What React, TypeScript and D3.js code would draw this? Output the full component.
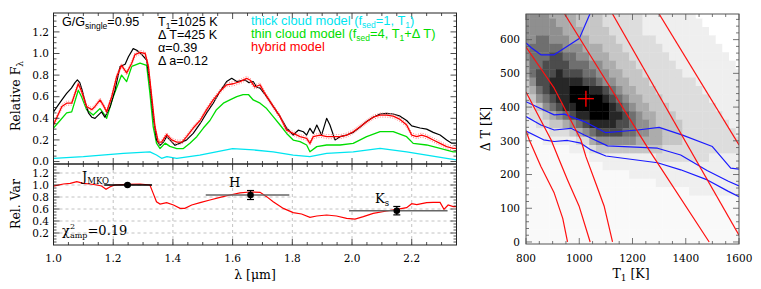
import React from 'react';
import * as d3 from 'd3';

type P = [number, number];

// ---------- Left: spectra (lambda [um], relative flux) ----------
const observed: P[] = [
  [1.0, 0.46], [1.015, 0.52], [1.028, 0.57], [1.044, 0.63], [1.06, 0.68], [1.072, 0.73], [1.08, 0.755], [1.088, 0.73],
  [1.096, 0.66], [1.106, 0.55], [1.117, 0.45], [1.128, 0.41], [1.139, 0.4], [1.15, 0.43], [1.161, 0.46], [1.172, 0.41],
  [1.19, 0.51], [1.206, 0.66], [1.223, 0.88], [1.24, 0.9], [1.251, 0.97], [1.267, 1.045], [1.279, 1.03], [1.296, 0.99],
  [1.312, 0.94], [1.323, 0.72], [1.334, 0.42], [1.345, 0.2], [1.357, 0.15], [1.368, 0.18], [1.379, 0.23], [1.39, 0.2],
  [1.407, 0.15], [1.424, 0.17], [1.446, 0.2], [1.468, 0.26], [1.491, 0.35], [1.513, 0.45], [1.535, 0.54], [1.558, 0.65],
  [1.58, 0.74], [1.597, 0.77], [1.614, 0.74], [1.63, 0.75], [1.642, 0.755], [1.655, 0.73], [1.669, 0.74], [1.68, 0.69],
  [1.692, 0.68], [1.714, 0.6], [1.736, 0.51], [1.759, 0.415], [1.781, 0.31], [1.803, 0.245], [1.82, 0.29], [1.837, 0.276],
  [1.848, 0.245], [1.859, 0.307], [1.87, 0.26], [1.882, 0.338], [1.898, 0.245], [1.915, 0.4], [1.926, 0.338], [1.943, 0.2],
  [1.96, 0.23], [1.982, 0.245], [2.004, 0.27], [2.027, 0.32], [2.049, 0.37], [2.071, 0.41], [2.094, 0.44], [2.116, 0.445],
  [2.138, 0.44], [2.161, 0.42], [2.183, 0.38], [2.2, 0.33], [2.228, 0.31], [2.25, 0.3], [2.272, 0.27], [2.295, 0.245],
  [2.317, 0.2], [2.334, 0.17], [2.35, 0.17],
];

const hybridModel: P[] = [
  [1.0, 0.34], [1.028, 0.51], [1.044, 0.54], [1.061, 0.54], [1.083, 0.72], [1.094, 0.65], [1.111, 0.51], [1.128, 0.48],
  [1.139, 0.51], [1.156, 0.57], [1.167, 0.52], [1.178, 0.46], [1.195, 0.6], [1.212, 0.79], [1.228, 0.89], [1.245, 0.82],
  [1.262, 0.91], [1.273, 0.99], [1.29, 1.01], [1.307, 1.0], [1.318, 0.88], [1.329, 0.6], [1.34, 0.32], [1.351, 0.18],
  [1.362, 0.18], [1.379, 0.25], [1.396, 0.2], [1.413, 0.18], [1.43, 0.18], [1.446, 0.23], [1.468, 0.31], [1.491, 0.38],
  [1.513, 0.48], [1.535, 0.57], [1.558, 0.65], [1.58, 0.71], [1.602, 0.72], [1.625, 0.74], [1.647, 0.77], [1.658, 0.755],
  [1.674, 0.69], [1.692, 0.71], [1.708, 0.63], [1.736, 0.51], [1.759, 0.415], [1.781, 0.29], [1.803, 0.26], [1.826, 0.23],
  [1.848, 0.214], [1.859, 0.168], [1.87, 0.23], [1.893, 0.245], [1.915, 0.23], [1.937, 0.23], [1.96, 0.23], [1.982, 0.245],
  [2.004, 0.276], [2.027, 0.322], [2.049, 0.368], [2.071, 0.41], [2.094, 0.43], [2.116, 0.43], [2.138, 0.42], [2.161, 0.39],
  [2.183, 0.338], [2.2, 0.245], [2.217, 0.23], [2.233, 0.245], [2.25, 0.23], [2.272, 0.199], [2.295, 0.168], [2.317, 0.138],
  [2.339, 0.122], [2.35, 0.122],
];

const thinCloud: P[] = [
  [1.0, 0.31], [1.022, 0.38], [1.044, 0.45], [1.061, 0.46], [1.083, 0.66], [1.094, 0.6], [1.111, 0.48], [1.133, 0.43],
  [1.156, 0.49], [1.172, 0.43], [1.178, 0.4], [1.2, 0.6], [1.228, 0.8], [1.245, 0.74], [1.262, 0.88], [1.29, 0.91],
  [1.312, 0.89], [1.323, 0.63], [1.334, 0.32], [1.345, 0.17], [1.357, 0.12], [1.374, 0.17], [1.39, 0.14], [1.413, 0.12],
  [1.435, 0.12], [1.457, 0.17], [1.48, 0.23], [1.502, 0.31], [1.524, 0.38], [1.546, 0.48], [1.569, 0.54], [1.591, 0.57],
  [1.614, 0.6], [1.635, 0.62], [1.653, 0.62], [1.669, 0.57], [1.692, 0.54], [1.714, 0.49], [1.736, 0.415], [1.759, 0.338],
  [1.781, 0.26], [1.803, 0.199], [1.826, 0.184], [1.848, 0.153], [1.859, 0.09], [1.882, 0.138], [1.915, 0.153], [1.96, 0.153],
  [2.004, 0.168], [2.049, 0.23], [2.094, 0.276], [2.138, 0.276], [2.183, 0.23], [2.205, 0.168], [2.25, 0.153], [2.295, 0.122],
  [2.339, 0.09], [2.35, 0.09],
];

const thickCloud: P[] = [
  [1.0, 0.03], [1.1, 0.045], [1.234, 0.076], [1.323, 0.09], [1.345, 0.06], [1.362, 0.03], [1.38, 0.045], [1.413, 0.03],
  [1.49, 0.06], [1.6, 0.12], [1.67, 0.107], [1.736, 0.09], [1.803, 0.06], [1.859, 0.045], [1.915, 0.076], [2.004, 0.09],
  [2.094, 0.122], [2.183, 0.09], [2.25, 0.06], [2.317, 0.03], [2.35, 0.015],
];

const relVariability: P[] = [
  [1.0, 0.98], [1.033, 1.017], [1.056, 1.028], [1.078, 1.056], [1.1, 1.028], [1.122, 1.017], [1.145, 1.0], [1.161, 0.983],
  [1.176, 0.928], [1.19, 0.972], [1.206, 1.0], [1.245, 1.011], [1.29, 1.017], [1.323, 1.0], [1.334, 0.86], [1.345, 0.72],
  [1.357, 0.683], [1.379, 0.706], [1.402, 0.667], [1.424, 0.61], [1.44, 0.61], [1.463, 0.667], [1.491, 0.706], [1.524, 0.75],
  [1.558, 0.794], [1.591, 0.833], [1.625, 0.87], [1.658, 0.883], [1.692, 0.878], [1.714, 0.806], [1.736, 0.72], [1.77, 0.61],
  [1.803, 0.539], [1.831, 0.517], [1.859, 0.461], [1.882, 0.483], [1.915, 0.5], [1.948, 0.483], [1.982, 0.444], [2.01, 0.433],
  [2.038, 0.472], [2.071, 0.528], [2.116, 0.567], [2.15, 0.594], [2.183, 0.622], [2.2, 0.689], [2.217, 0.672], [2.25, 0.706],
  [2.272, 0.711], [2.295, 0.711], [2.308, 0.594], [2.322, 0.667], [2.339, 0.639], [2.35, 0.639],
];

const bandCenter = [1.248, 1.66, 2.15];
const bandAmp = [1.0, 0.833, 0.572];
const bandErr = [0.012, 0.075, 0.07];
const bandFrom = [1.17, 1.51, 1.99];
const bandTo = [1.33, 1.79, 2.32];
const bandColor = ['#000000', '#666666', '#666666'];

const topTicks = [0, 0.2, 0.4, 0.6, 0.8, 1.0, 1.2];
const botTicks = [0.2, 0.4, 0.6, 0.8, 1.0, 1.2];
const lamTicks = [1.0, 1.2, 1.4, 1.6, 1.8, 2.0, 2.2];

// ---------- Right: chi^2 map ----------
const heatT1Start = 800;
const heatStep = 25;
const heatDTTop = 675;
// rows from dT=675 down to 0; columns T1=800..1600 (darkness 0..9, '-' = white)
const heatRows = [
  '55554444333322222211111111-------',
  '555554443333222222111111111------',
  '5555554443333222221111111111-----',
  '55665554443333222222111111111----',
  '566666555444333222222111111111---',
  '5666776655444333222222111111111--',
  '46677776665544333222222111111111-',
  '467778777665544333222222111111111',
  '357788888776554433322222221111111',
  '346788899988765443332222222111111',
  '235678899999876544333222222211111',
  '223567889999987654433322222221111',
  '122345678899988765443332222222111',
  '112233456788887765543333222222211',
  '011122234567777665544333222222221',
  '000111112245555554444333222222222',
  '000000011123333333333222222222222',
  '000000000011111111112222222211111',
  '000000000000111111111111111111111',
  '000000000000000011111111111111111',
  '000000000000000000001111111111111',
  '000000000000000000000000011111111',
  '000000000000000000000000000000000',
  '000000000000000000000000000000000',
  '000000000000000000000000000000000',
  '000000000000000000000000000000000',
  '000000000000000000000000000000000',
  '000000000000000000000000000000000',
];

const redContours: P[][] = [
  [[800, 330], [812, 303], [856, 224], [906, 145], [938, 70], [956, 0]],
  [[800, 445], [894, 303], [925, 243], [956, 184], [1000, 105], [1041, 0]],
  [[800, 578], [906, 456], [1006, 303], [1025, 253], [1062, 174], [1094, 105], [1125, 0]],
  [[945, 676], [1040, 555], [1262, 273], [1488, 0]],
  [[1125, 676], [1600, 20]],
  [[1300, 676], [1600, 288]],
];

const blueContours: P[][] = [
  [[800, 590], [820, 576], [856, 555], [906, 555], [1000, 603], [1040, 676]],
  [[800, 416], [906, 377], [944, 379], [1019, 357], [1100, 324], [1219, 332], [1300, 340], [1388, 317], [1500, 283], [1569, 219], [1600, 216]],
  [[800, 372], [856, 347], [906, 332], [969, 337], [1019, 317], [1106, 285], [1294, 278], [1381, 258], [1480, 212], [1560, 180], [1600, 166]],
  [[800, 329], [866, 303], [906, 298], [956, 301], [1006, 293], [1044, 273], [1100, 255], [1294, 235], [1381, 214], [1481, 184], [1560, 150], [1600, 134]],
];

const bestFit: P = [1025, 425];
const t1Ticks = [800, 1000, 1200, 1400, 1600];
const dtTicks = [0, 100, 200, 300, 400, 500, 600];

const serif = "'DejaVu Serif', serif";
const sans = "'Liberation Sans', Arial, sans-serif";

function near(v: number, step: number) {
  return Math.abs(v / step - Math.round(v / step)) < 1e-6;
}

function grayOf(ch: string) {
  if (ch === '-') return '#ffffff';
  const d = +ch;
  const g = Math.round(249 * (1 - Math.pow(d / 9, 1.45)));
  return `rgb(${g},${g},${g})`;
}

export default function App() {
  const xL = d3.scaleLinear().domain([1.0, 2.35]).range([53.5, 456.5]);
  const yT = d3.scaleLinear().domain([-0.023, 1.375]).range([164, 13]);
  const yB = d3.scaleLinear().domain([0, 1.35]).range([245, 164]);
  const xR = d3.scaleLinear().domain([800, 1600]).range([526, 739]);
  const yR = d3.scaleLinear().domain([-6, 676]).range([244, 14]);

  const lineT = d3.line<P>().x(d => xL(d[0])).y(d => yT(d[1]));
  const lineB = d3.line<P>().x(d => xL(d[0])).y(d => yB(d[1]));
  const lineR = d3.line<P>().x(d => xR(d[0])).y(d => yR(d[1]));

  const lamMinor = d3.range(1.0, 2.3501, 0.05);
  const topMinor = d3.range(0, 1.3501, 0.05);
  const botMinor = d3.range(0.05, 1.3001, 0.05);
  const t1Minor = d3.range(800, 1600.1, 50);
  const dtMinor = d3.range(0, 676, 20);

  const [lx0, lx1] = xL.range();
  const tTop = 13, tBot = 164, bBot = 245;
  const [rx0, rx1] = xR.range();
  const ry0 = 14, ry1 = 244;

  const cells: JSX.Element[] = [];
  heatRows.forEach((row, i) => {
    const dt = heatDTTop - i * heatStep;
    for (let j = 0; j < row.length; j++) {
      const t1 = heatT1Start + j * heatStep;
      const x0 = xR(t1 - heatStep / 2), x1 = xR(t1 + heatStep / 2);
      const y0 = yR(dt + heatStep / 2), y1 = yR(dt - heatStep / 2);
      cells.push(
        <rect key={`c${i}-${j}`} x={x0} y={y0} width={x1 - x0 + 0.4} height={y1 - y0 + 0.4} fill={grayOf(row[j])} />
      );
    }
  });

  const ax = '#222';
  const tickMajor = 6, tickMinor = 3;

  return (
    <svg width={761} height={289} style={{ display: 'block', position: 'absolute', left: 0, top: 0 }}>
      <rect x={0} y={0} width={761} height={289} fill="#fff" />
      <defs>
        <clipPath id="lclip"><rect x={lx0} y={tTop} width={lx1 - lx0} height={bBot - tTop} /></clipPath>
        <clipPath id="rclip"><rect x={rx0} y={ry0} width={rx1 - rx0} height={ry1 - ry0} /></clipPath>
      </defs>

      {/* lower panel grid */}
      {lamTicks.filter(v => v > 1.0).map(v => (
        <line key={`gx${v}`} x1={xL(v)} x2={xL(v)} y1={tBot} y2={bBot} stroke="#bbb" strokeDasharray="3,3" strokeWidth={0.9} />
      ))}
      {botTicks.map(v => (
        <line key={`gy${v}`} x1={lx0} x2={lx1} y1={yB(v)} y2={yB(v)} stroke="#bbb" strokeDasharray="3,3" strokeWidth={0.9} />
      ))}

      {/* top panel spectra */}
      <g clipPath="url(#lclip)" fill="none" strokeLinejoin="round">
        <path d={lineT(thickCloud) || ''} stroke="#00e5f0" strokeWidth={1.3} />
        <path d={lineT(thinCloud) || ''} stroke="#00dd00" strokeWidth={1.3} />
        <path d={lineT(observed) || ''} stroke="#000" strokeWidth={1.2} />
        <path d={lineT(hybridModel) || ''} stroke="#ff8080" strokeWidth={1} strokeDasharray="1,1.5" transform="translate(0,-2)" />
        <path d={lineT(hybridModel) || ''} stroke="#ff8080" strokeWidth={1} strokeDasharray="1,1.5" transform="translate(0,2)" />
        <path d={lineT(hybridModel) || ''} stroke="#ff0000" strokeWidth={1.3} />
      </g>

      {/* lower panel */}
      <g clipPath="url(#lclip)" fill="none">
        <path d={lineB(relVariability) || ''} stroke="#ff0000" strokeWidth={1.2} />
      </g>
      {bandCenter.map((c, i) => (
        <g key={`b${i}`}>
          <line x1={xL(bandFrom[i])} x2={xL(bandTo[i])} y1={yB(bandAmp[i])} y2={yB(bandAmp[i])} stroke={bandColor[i]} strokeWidth={1.6} />
          <line x1={xL(c)} x2={xL(c)} y1={yB(bandAmp[i] - bandErr[i])} y2={yB(bandAmp[i] + bandErr[i])} stroke="#000" strokeWidth={1.2} />
          <line x1={xL(c) - 3.5} x2={xL(c) + 3.5} y1={yB(bandAmp[i] - bandErr[i])} y2={yB(bandAmp[i] - bandErr[i])} stroke="#000" strokeWidth={1.2} />
          <line x1={xL(c) - 3.5} x2={xL(c) + 3.5} y1={yB(bandAmp[i] + bandErr[i])} y2={yB(bandAmp[i] + bandErr[i])} stroke="#000" strokeWidth={1.2} />
          <circle cx={xL(c)} cy={yB(bandAmp[i])} r={3.3} fill="#000" />
        </g>
      ))}

      {/* left frames */}
      <rect x={lx0} y={tTop} width={lx1 - lx0} height={tBot - tTop} fill="none" stroke={ax} strokeWidth={1} />
      <rect x={lx0} y={tBot} width={lx1 - lx0} height={bBot - tBot} fill="none" stroke={ax} strokeWidth={1} />

      {/* x ticks for both panels */}
      {lamMinor.map(v => {
        const L = near(v, 0.2) ? tickMajor : tickMinor;
        const x = xL(v);
        return (
          <g key={`lt${v.toFixed(2)}`} stroke={ax} strokeWidth={0.8}>
            <line x1={x} x2={x} y1={tTop} y2={tTop + L} />
            <line x1={x} x2={x} y1={tBot} y2={tBot - L} />
            <line x1={x} x2={x} y1={tBot} y2={tBot + L} />
            <line x1={x} x2={x} y1={bBot} y2={bBot - L} />
          </g>
        );
      })}
      {topMinor.map(v => {
        const L = near(v, 0.2) ? tickMajor : tickMinor;
        const y = yT(v);
        return (
          <g key={`ty${v.toFixed(2)}`} stroke={ax} strokeWidth={0.8}>
            <line x1={lx0} x2={lx0 + L} y1={y} y2={y} />
            <line x1={lx1} x2={lx1 - L} y1={y} y2={y} />
          </g>
        );
      })}
      {botMinor.map(v => {
        const L = near(v, 0.2) ? tickMajor : tickMinor;
        const y = yB(v);
        return (
          <g key={`by${v.toFixed(2)}`} stroke={ax} strokeWidth={0.8}>
            <line x1={lx0} x2={lx0 + L} y1={y} y2={y} />
            <line x1={lx1} x2={lx1 - L} y1={y} y2={y} />
          </g>
        );
      })}

      {/* left tick labels */}
      <g fontFamily={serif} fontSize={10.5} fill="#000">
        {topTicks.map(v => (
          <text key={`tl${v}`} x={49} y={yT(v)} dy="0.36em" textAnchor="end">{v.toFixed(1)}</text>
        ))}
        {botTicks.map(v => (
          <text key={`bl${v}`} x={49} y={yB(v)} dy="0.36em" textAnchor="end">{v.toFixed(1)}</text>
        ))}
        {lamTicks.map(v => (
          <text key={`xl${v}`} x={xL(v)} y={262} textAnchor="middle">{v.toFixed(1)}</text>
        ))}
      </g>

      {/* left axis titles */}
      <g fontFamily={serif} fontSize={12.5} fill="#000">
        <text transform="translate(20,96) rotate(-90)" textAnchor="middle">
          Relative F<tspan dy={3} fontSize={9}>λ</tspan>
        </text>
        <text transform="translate(20,204) rotate(-90)" textAnchor="middle">Rel. Var</text>
        <text x={255} y={279} textAnchor="middle">λ [μm]</text>
      </g>

      {/* lower panel annotations */}
      <g fontFamily={serif} fill="#000">
        <text x={82} y={181} fontSize={13}>J<tspan dy={2.5} fontSize={8.5}>MKO</tspan></text>
        <text x={229} y={187} fontSize={13}>H</text>
        <text x={375} y={203} fontSize={13}>K<tspan dy={2.5} fontSize={8.5}>s</tspan></text>
        <text x={62} y={235} fontSize={13}>χ<tspan dy={-6} fontSize={8}>2</tspan><tspan dx={-5} dy={8.5} fontSize={8}>amp</tspan><tspan dy={-2.5}>=0.19</tspan></text>
      </g>

      {/* top panel annotations */}
      <g fontFamily={sans} fontSize={12.6} fill="#000">
        <text x={62} y={26}>G/G<tspan dy={2.5} fontSize={8.5}>single</tspan><tspan dy={-2.5}>=0.95</tspan></text>
        <text x={158} y={26}>T<tspan dy={2.5} fontSize={8.5}>1</tspan><tspan dy={-2.5}>=1025 K</tspan></text>
        <text x={158} y={39}>Δ T=425 K</text>
        <text x={158} y={52}>α=0.39</text>
        <text x={158} y={65}>Δ a=0.12</text>
      </g>
      <g fontFamily={sans} fontSize={12.9}>
        <text x={251} y={25} fill="#00e5f0">thick cloud model (f<tspan dy={2.5} fontSize={8.5}>sed</tspan><tspan dy={-2.5}>=1, T</tspan><tspan dy={2.5} fontSize={8.5}>1</tspan><tspan dy={-2.5}>)</tspan></text>
        <text x={251} y={38} fill="#00dd00">thin cloud model (f<tspan dy={2.5} fontSize={8.5}>sed</tspan><tspan dy={-2.5}>=4, T</tspan><tspan dy={2.5} fontSize={8.5}>1</tspan><tspan dy={-2.5}>+Δ T)</tspan></text>
        <text x={251} y={51} fill="#ff0000">hybrid model</text>
      </g>

      {/* right panel */}
      <g clipPath="url(#rclip)">
        {cells}
        <g fill="none" strokeLinejoin="round">
          {blueContours.map((c, i) => (
            <path key={`bc${i}`} d={lineR(c) || ''} stroke="#1a1aff" strokeWidth={1.2} />
          ))}
          {redContours.map((c, i) => (
            <path key={`rc${i}`} d={lineR(c) || ''} stroke="#ff1010" strokeWidth={1.2} />
          ))}
        </g>
        <line x1={xR(bestFit[0]) - 8} x2={xR(bestFit[0]) + 8} y1={yR(bestFit[1])} y2={yR(bestFit[1])} stroke="#ff0000" strokeWidth={1.4} />
        <line x1={xR(bestFit[0])} x2={xR(bestFit[0])} y1={yR(bestFit[1]) - 8} y2={yR(bestFit[1]) + 8} stroke="#ff0000" strokeWidth={1.4} />
      </g>
      <rect x={rx0} y={ry0} width={rx1 - rx0} height={ry1 - ry0} fill="none" stroke="#555" strokeWidth={1} />
      {t1Minor.map(v => {
        const L = near(v, 200) ? tickMajor : tickMinor;
        const x = xR(v);
        return (
          <g key={`rt${v}`} stroke="#555" strokeWidth={0.8}>
            <line x1={x} x2={x} y1={ry1} y2={ry1 - L} />
            <line x1={x} x2={x} y1={ry0} y2={ry0 + L} />
          </g>
        );
      })}
      {dtMinor.map(v => {
        const L = near(v, 100) ? tickMajor : tickMinor;
        const y = yR(v);
        return (
          <g key={`ry${v}`} stroke="#555" strokeWidth={0.8}>
            <line x1={rx0} x2={rx0 + L} y1={y} y2={y} />
            <line x1={rx1} x2={rx1 - L} y1={y} y2={y} />
          </g>
        );
      })}
      <g fontFamily={serif} fontSize={10.5} fill="#000">
        {t1Ticks.map(v => (
          <text key={`rxl${v}`} x={xR(v)} y={262} textAnchor="middle">{v}</text>
        ))}
        {dtTicks.map(v => (
          <text key={`ryl${v}`} x={520} y={yR(v)} dy="0.36em" textAnchor="end">{v}</text>
        ))}
      </g>
      <g fontFamily={serif} fontSize={12.5} fill="#000">
        <text transform="translate(490,129) rotate(-90)" textAnchor="middle">Δ T [K]</text>
        <text x={631} y={278} textAnchor="middle">T<tspan dy={3} fontSize={9}>1</tspan><tspan dy={-3}> [K]</tspan></text>
      </g>
    </svg>
  );
}
